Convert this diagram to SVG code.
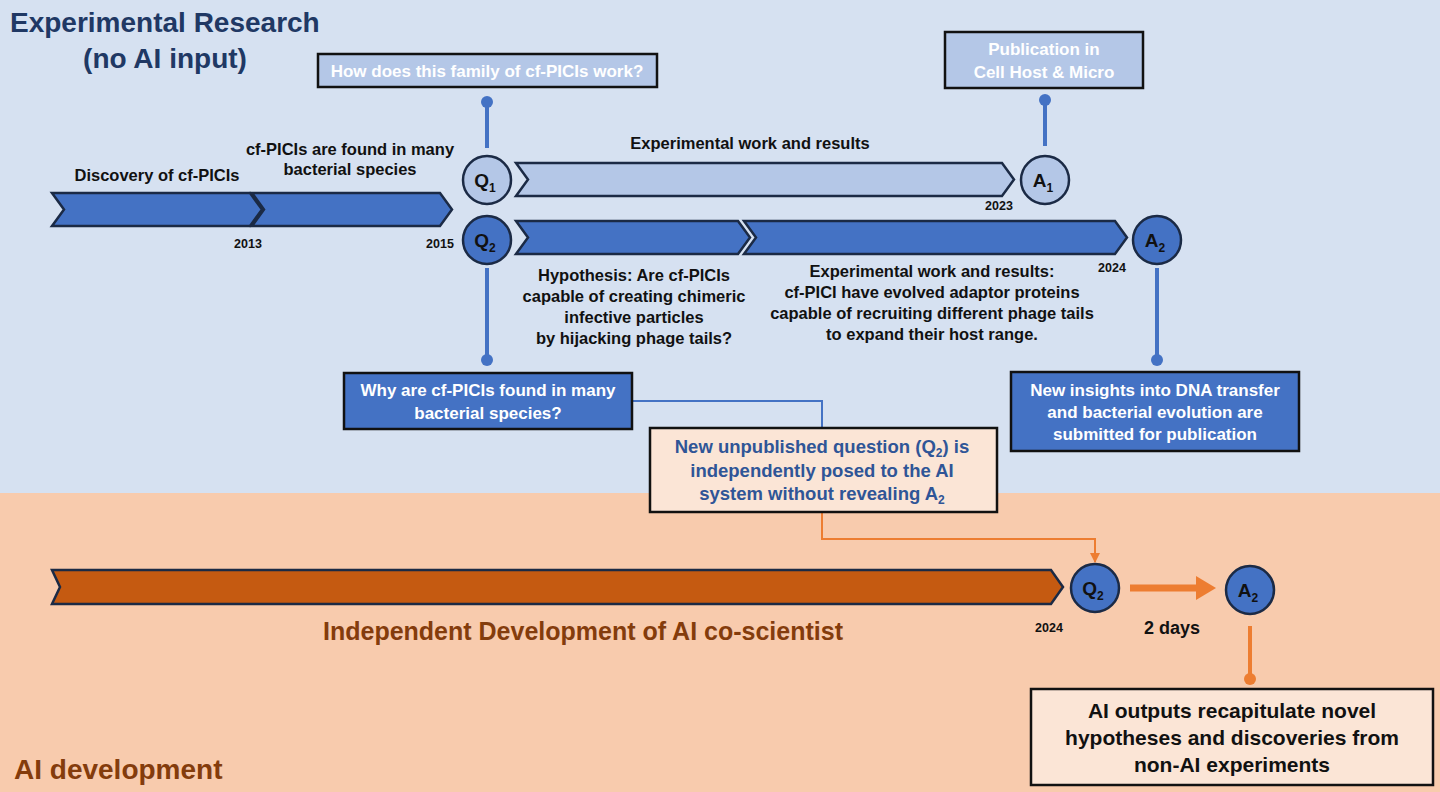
<svg xmlns="http://www.w3.org/2000/svg" width="1440" height="792" viewBox="0 0 1440 792">
<defs>
<style>
text{font-family:"Liberation Sans",Arial,sans-serif;font-weight:bold;}
.lbl{font-size:16.5px;fill:#111;text-anchor:middle;}
.yr{font-size:12.5px;fill:#111;text-anchor:middle;}
.cb{stroke:#1B2A45;stroke-width:2.5;}
.blue{fill:#4472C4;}
.lt{fill:#B4C7E7;}
.box{stroke:#111;stroke-width:2.5;}
.wt{fill:#fff;font-size:17px;text-anchor:middle;}
.ct{font-size:21px;fill:#111;text-anchor:middle;}
.bl{stroke:#4472C4;stroke-width:4;fill:none;}
.or{stroke:#ED7D31;fill:none;}
.nt{font-size:18.5px;fill:#2F5597;text-anchor:middle;}
</style>
<marker id="ahs" viewBox="0 0 10 10" refX="9" refY="5" markerWidth="10" markerHeight="10" orient="auto" markerUnits="userSpaceOnUse">
<path d="M0,0 L10,5 L0,10 Z" fill="#ED7D31"/>
</marker>
</defs>
<rect x="0" y="0" width="1440" height="493" fill="#D6E1F1"/>
<rect x="0" y="493" width="1440" height="299" fill="#F8CBAD"/>
<text x="10" y="32" font-size="28" fill="#203864">Experimental Research</text>
<text x="165" y="68" font-size="28" fill="#203864" text-anchor="middle">(no AI input)</text>
<text x="14" y="779" font-size="28" fill="#843C0C">AI development</text>

<g id="connectors">
<line x1="487" y1="102" x2="487" y2="148" class="bl"/>
<circle cx="487" cy="102" r="6" fill="#4472C4"/>
<line x1="1045" y1="100" x2="1045" y2="146" class="bl"/>
<circle cx="1045" cy="100" r="6" fill="#4472C4"/>
<line x1="487" y1="268" x2="487" y2="360" class="bl"/>
<circle cx="487" cy="360" r="6" fill="#4472C4"/>
<line x1="1157" y1="268" x2="1157" y2="360" class="bl"/>
<circle cx="1157" cy="360" r="6" fill="#4472C4"/>
<polyline points="632,401 822,401 822,428" stroke="#4472C4" stroke-width="2" fill="none"/>
<polyline points="822,512 822,539 1095,539 1095,562" class="or" stroke-width="2" marker-end="url(#ahs)"/>
<line x1="1130" y1="588" x2="1200" y2="588" class="or" stroke-width="7"/>
<path d="M1196,576 L1216,588 L1196,600 Z" fill="#ED7D31"/>
<line x1="1250" y1="626" x2="1250" y2="679" class="or" stroke-width="4"/>
<circle cx="1250" cy="679" r="6" fill="#ED7D31"/>
</g>

<g id="chevron-discovery"><path d="M52,193 L250,193 L262,209.5 L250,226 L52,226 L64,209.5 Z" class="blue cb"/>
<text x="157" y="181" class="lbl">Discovery of cf-PICIs</text>
<text x="248" y="248" class="yr">2013</text></g>
<g id="chevron-found"><path d="M252,193 L440,193 L452,209.5 L440,226 L252,226 L264,209.5 Z" class="blue cb"/>
<text x="350" y="155" class="lbl">cf-PICIs are found in many</text>
<text x="350" y="175" class="lbl">bacterial species</text>
<text x="440" y="248" class="yr">2015</text></g>

<g id="q1"><circle cx="487" cy="180" r="24" class="lt cb"/>
<text x="485" y="187" font-size="19" fill="#111" text-anchor="middle">Q<tspan font-size="12" dy="5">1</tspan></text></g>
<g id="q2"><circle cx="487" cy="240" r="24" class="blue cb"/>
<text x="485" y="247" font-size="19" fill="#111" text-anchor="middle">Q<tspan font-size="12" dy="5">2</tspan></text></g>

<g id="chevron-exp1"><path d="M516,163 L1002,163 L1014,179.5 L1002,196 L516,196 L528,179.5 Z" class="lt cb"/>
<text x="750" y="149" class="lbl">Experimental work and results</text>
<text x="999" y="210" class="yr">2023</text></g>
<g id="a1"><circle cx="1045" cy="180" r="24" class="lt cb"/>
<text x="1043" y="187" font-size="19" fill="#111" text-anchor="middle">A<tspan font-size="12" dy="5">1</tspan></text></g>

<g id="chevron-hyp"><path d="M516,221 L738,221 L750,237.5 L738,254 L516,254 L528,237.5 Z" class="blue cb"/>
<text x="634" y="281" class="lbl">Hypothesis: Are cf-PICIs</text>
<text x="634" y="302" class="lbl">capable of creating chimeric</text>
<text x="634" y="323" class="lbl">infective particles</text>
<text x="634" y="344" class="lbl">by hijacking phage tails?</text></g>
<g id="chevron-exp2"><path d="M744,221 L1115,221 L1127,237.5 L1115,254 L744,254 L756,237.5 Z" class="blue cb"/>
<text x="932" y="277" class="lbl">Experimental work and results:</text>
<text x="932" y="298" class="lbl">cf-PICI have evolved adaptor proteins</text>
<text x="932" y="319" class="lbl">capable of recruiting different phage tails</text>
<text x="932" y="340" class="lbl">to expand their host range.</text>
<text x="1112" y="272" class="yr">2024</text></g>
<g id="a2"><circle cx="1157" cy="240" r="24" class="blue cb"/>
<text x="1155" y="247" font-size="19" fill="#111" text-anchor="middle">A<tspan font-size="12" dy="5">2</tspan></text></g>

<g id="box-q1"><rect x="318" y="54" width="339" height="33" class="lt box"/>
<text x="487" y="77" class="wt">How does this family of cf-PICIs work?</text></g>
<g id="box-pub"><rect x="945" y="32" width="198" height="56" class="lt box"/>
<text x="1044" y="55" class="wt">Publication in</text>
<text x="1044" y="78" class="wt">Cell Host &amp; Micro</text></g>
<g id="box-why"><rect x="344" y="373" width="288" height="56" class="blue box"/>
<text x="488" y="396" class="wt">Why are cf-PICIs found in many</text>
<text x="488" y="419" class="wt">bacterial species?</text></g>
<g id="box-insights"><rect x="1011" y="372" width="288" height="79" class="blue box"/>
<text x="1155" y="396" class="wt">New insights into DNA transfer</text>
<text x="1155" y="418" class="wt">and bacterial evolution are</text>
<text x="1155" y="440" class="wt">submitted for publication</text></g>
<g id="box-new"><rect x="650" y="428" width="347" height="84" fill="#FBE5D6" class="box"/>
<text x="822" y="453" class="nt">New unpublished question (Q<tspan font-size="12" dy="4">2</tspan><tspan dy="-4">) is</tspan></text>
<text x="822" y="477" class="nt">independently posed to the AI</text>
<text x="822" y="500" class="nt">system without revealing A<tspan font-size="12" dy="4">2</tspan></text></g>

<g id="chevron-ai"><path d="M52,570 L1051,570 L1063,587 L1051,604 L52,604 L60,587 Z" fill="#C55A11" class="cb" stroke="#111"/>
<text x="583" y="640" font-size="25" fill="#843C0C" text-anchor="middle">Independent Development of AI co-scientist</text>
<text x="1049" y="632" class="yr">2024</text></g>
<g id="ai-q2"><circle cx="1095" cy="588" r="24" class="blue cb" stroke="#111"/>
<text x="1093" y="595" font-size="19" fill="#111" text-anchor="middle">Q<tspan font-size="12" dy="5">2</tspan></text></g>
<g id="ai-a2"><circle cx="1250" cy="590" r="24" class="blue cb" stroke="#111"/>
<text x="1248" y="597" font-size="19" fill="#111" text-anchor="middle">A<tspan font-size="12" dy="5">2</tspan></text></g>
<text x="1172" y="634" font-size="18" fill="#111" text-anchor="middle">2 days</text>
<g id="box-ai-out"><rect x="1031" y="689" width="402" height="96" fill="#FBE5D6" class="box"/>
<text x="1232" y="718" class="ct">AI outputs recapitulate novel</text>
<text x="1232" y="745" class="ct">hypotheses and discoveries from</text>
<text x="1232" y="772" class="ct">non-AI experiments</text></g>
</svg>
